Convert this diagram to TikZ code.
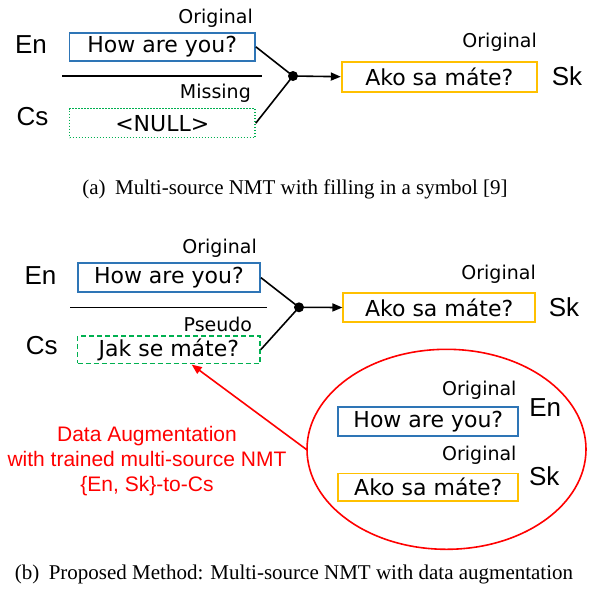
\documentclass[tikz,border=0pt]{standalone}
\usepackage{fontspec}
\setmainfont{Liberation Sans}
\newfontfamily\boxfont{DejaVu Sans}
\newfontfamily\capfont{Liberation Serif}
\usetikzlibrary{shapes.geometric,arrows.meta}
\definecolor{boxblue}{HTML}{2E75B6}
\definecolor{boxorange}{HTML}{FFC000}
\definecolor{boxgreen}{HTML}{00B050}
\begin{document}
\begin{tikzpicture}[x=1pt,y=-1pt,
  sent/.style={draw, line width=1.8pt, inner sep=0pt, font=\boxfont\fontsize{22}{26}\selectfont},
  enbox/.style={sent, draw=boxblue},
  skbox/.style={sent, draw=boxorange},
  dotbox/.style={sent, draw=boxgreen, line width=1.5pt, dash pattern=on 1.4pt off 1.6pt},
  dashbox/.style={sent, draw=boxgreen, line width=1.5pt, dash pattern=on 5pt off 3pt},
  tag/.style={inner sep=0pt, anchor=east, font=\boxfont\fontsize{19}{22}\selectfont},
  lang/.style={inner sep=0pt, font=\fontsize{26}{30}\selectfont},
  joint/.style={circle, fill=black, inner sep=0pt, minimum size=10pt},
  conn/.style={line width=1.6pt},
  capt/.style={inner sep=0pt, anchor=base, font=\capfont\fontsize{21}{25}\selectfont}
]
\useasboundingbox (0,0) rectangle (600,590);

% ---------- (a) ----------
\node[tag] (ta1) at (253,18) {Original};
\node[lang] (enA) at (31,44.5) {En};
\node[enbox, minimum width=185.5pt, minimum height=28.3pt] (bA) at (162.25,46.85) {How are you?};
\coordinate (sepA1) at (62,76);
\coordinate (sepA2) at (262,76);
\draw[conn] (sepA1) -- (sepA2);
\node[tag] (ta2) at (251,93) {Missing};
\node[lang] (csA) at (32.5,117) {Cs};
\node[dotbox, minimum width=185.5pt, minimum height=29pt] (gA) at (162.25,123.2) {<NULL>};
\node[joint] (dA) at (293,76) {};
\node[tag] (ta3) at (537,42) {Original};
\node[skbox, minimum width=195.3pt, minimum height=30pt] (oA) at (439.35,76.7) {Ako sa máte?};
\node[lang] (skA) at (567,76.7) {Sk};
\draw[conn] (bA.east) -- (dA.center);
\draw[conn] (gA.east) -- (dA.center);
\draw[conn, -{Triangle[length=10pt,width=8pt]}] (dA.center) -- (oA.west);
\node[capt] (capA) at (295,194.6) {(a)\hspace{0.45em}Multi-source NMT with filling in a symbol [9]};

% ---------- (b) ----------
\node[tag] (tb1) at (257,248) {Original};
\node[lang] (enB) at (40.5,275.8) {En};
\node[enbox, minimum width=182.3pt, minimum height=29.3pt] (bB) at (168.85,277.65) {How are you?};
\coordinate (sepB1) at (70,307.3);
\coordinate (sepB2) at (267,307.3);
\draw[conn] (sepB1) -- (sepB2);
\node[tag] (tb2) at (252.3,324.5) {Pseudo};
\node[lang] (csB) at (41.7,346) {Cs};
\node[dashbox, minimum width=182.3pt, minimum height=27.3pt] (gB) at (168.85,349.65) {Jak se máte?};
\node[joint] (dB) at (299,307.3) {};
\node[tag] (tb3) at (536,274.5) {Original};
\node[skbox, minimum width=191.7pt, minimum height=28.4pt] (oB) at (439.15,307.5) {Ako sa máte?};
\node[lang] (skB) at (564,307.3) {Sk};
\draw[conn] (bB.east) -- (dB.center);
\draw[conn] (gB.east) -- (dB.center);
\draw[conn, -{Triangle[length=10pt,width=8pt]}] (dB.center) -- (oB.west);

% ellipse with the training data
\node[ellipse, draw=red, line width=1.6pt, inner sep=0pt, minimum width=279pt, minimum height=200pt] (ell) at (446.5,449.3) {};
\node[tag] (te1) at (516.7,390.5) {Original};
\node[enbox, minimum width=180pt, minimum height=28.4pt] (bE) at (428.3,421.5) {How are you?};
\node[lang] (enE) at (545.3,407.8) {En};
\node[tag] (te2) at (516.7,455.3) {Original};
\node[skbox, minimum width=180pt, minimum height=27.2pt] (oE) at (428.3,487.1) {Ako sa máte?};
\node[lang] (skE) at (544.3,476.2) {Sk};

\coordinate (redtip) at (191.7,364.6);
\draw[red, line width=1.6pt, -{Triangle[length=10pt,width=8pt]}] (ell.west) -- (redtip);
\node[text=red, align=center, inner sep=0pt, font=\fontsize{21}{25}\selectfont] (aug) at (147,461)
  {Data Augmentation\\with trained multi-source NMT\\\{En, Sk\}-to-Cs};

\node[capt] (capB) at (294,579.5) {(b)\hspace{0.45em}Proposed Method: Multi-source NMT with data augmentation};
\end{tikzpicture}
\end{document}
